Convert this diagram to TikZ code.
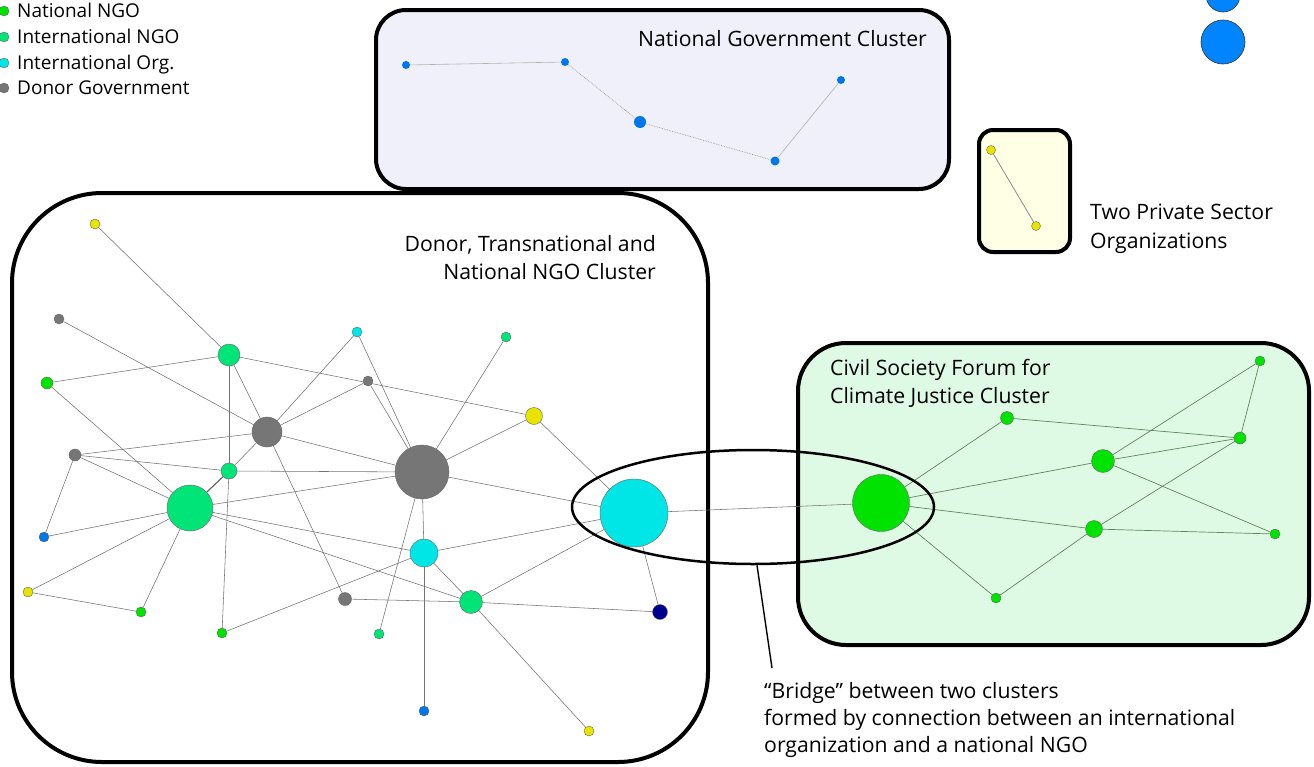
\documentclass[tikz,border=0pt]{standalone}
\usepackage{fontspec}
\setmainfont{Open Sans}
\usetikzlibrary{shapes.geometric}
\definecolor{cNat}{RGB}{0,226,0}
\definecolor{cIng}{RGB}{0,228,120}
\definecolor{cIO}{RGB}{0,230,230}
\definecolor{cDon}{RGB}{118,118,118}
\definecolor{cYel}{RGB}{232,228,0}
\definecolor{cBlu}{RGB}{0,118,235}
\definecolor{cNav}{RGB}{0,0,140}
\definecolor{cGovFill}{RGB}{240,240,250}
\definecolor{cPrivFill}{RGB}{255,255,230}
\definecolor{cCivFill}{RGB}{222,250,228}
\definecolor{cBigBlue}{RGB}{0,133,255}
\definecolor{cCivEdge}{RGB}{95,135,95}
\pgfdeclarelayer{bg}\pgfdeclarelayer{edges}\pgfsetlayers{bg,edges,main}
\begin{document}
\begin{tikzpicture}[x=1pt,y=-1pt,
  nd/.style={circle,draw=black!60,line width=0.4pt,inner sep=0pt},
  nat/.style={nd,fill=cNat}, ing/.style={nd,fill=cIng}, io/.style={nd,fill=cIO},
  don/.style={nd,fill=cDon}, yel/.style={nd,fill=cYel}, blu/.style={nd,fill=cBlu},
  nav/.style={nd,fill=cNav}, gov/.style={circle,fill=cBlu,inner sep=0pt},
  edge/.style={draw=black!55,line width=0.55pt},
  civedge/.style={draw=cCivEdge,line width=0.7pt},
  govedge/.style={draw=black!30,line width=0.6pt},
  govdot/.style={draw=black!40,line width=0.7pt,densely dotted},
  box/.style={draw=black,line width=4pt},
  lbl/.style={inner sep=0pt,font=\fontsize{21.2}{28}\selectfont},
  leg/.style={inner sep=0pt,font=\fontsize{19}{20}\selectfont}]
\useasboundingbox (0,0) rectangle (1314,766);

% cluster boxes
\begin{pgfonlayer}{bg}
\fill[white] (0,0) rectangle (1314,766);
\draw[box,fill=white,rounded corners=90pt] (12,193) rectangle (708,762);
\draw[box,fill=cGovFill,rounded corners=30pt] (376,10) rectangle (949,189);
\draw[box,fill=cPrivFill,rounded corners=14pt] (979,130) rectangle (1070,252);
\draw[box,fill=cCivFill,rounded corners=48pt] (798,343) rectangle (1309,645);
\end{pgfonlayer}

% legend
\node[nat,minimum size=10pt] (l1) at (4,11) {};
\node[ing,minimum size=10pt] (l2) at (4,37) {};
\node[io,minimum size=10pt] (l3) at (4,63) {};
\node[don,minimum size=10pt] (l4) at (4,88) {};
\node[leg,anchor=base west] (t1) at (17,17) {National NGO};
\node[leg,anchor=base west] (t2) at (17,43) {International NGO};
\node[leg,anchor=base west] (t3) at (17,69) {International Org.};
\node[leg,anchor=base west] (t4) at (17,94) {Donor Government};

% top-right blue circles
\node[circle,draw=black!80,line width=0.6pt,fill=cBigBlue,minimum size=34pt,inner sep=0pt] (bb1) at (1223,-5) {};
\node[circle,draw=black!80,line width=0.6pt,fill=cBigBlue,minimum size=44pt,inner sep=0pt] (bb2) at (1223,42) {};

% national government cluster
\node[gov,minimum size=8pt] (gv1) at (406,65) {};
\node[gov,minimum size=8pt] (gv2) at (565,62) {};
\node[gov,minimum size=12pt] (gv3) at (640,122) {};
\node[gov,minimum size=9pt] (gv4) at (775,161) {};
\node[gov,minimum size=8pt] (gv5) at (841,80) {};
\node[lbl,anchor=base east] (tgov) at (927,46) {National Government Cluster};

% private sector
\node[yel,minimum size=9pt] (p1) at (991,150) {};
\node[yel,minimum size=9pt] (p2) at (1036,226) {};
\node[lbl,anchor=base west] (tp1) at (1090,219) {Two Private Sector};
\node[lbl,anchor=base west] (tp2) at (1090,248) {Organizations};

% donor cluster nodes
\node[yel,minimum size=10pt] (y1) at (95,224) {};
\node[don,minimum size=10pt] (g1) at (59,319) {};
\node[nat,minimum size=12pt] (gA) at (47,383) {};
\node[ing,minimum size=22pt] (ing1) at (229,355) {};
\node[don,minimum size=30pt] (dg1) at (267,432) {};
\node[io,minimum size=10pt] (cy1) at (357,332) {};
\node[don,minimum size=10pt] (gs2) at (368,381) {};
\node[ing,minimum size=10pt] (ing2) at (506,337) {};
\node[yel,minimum size=17pt] (y2) at (534,416) {};
\node[don,minimum size=54pt] (dg2) at (422,472) {};
\node[don,minimum size=12pt] (gs3) at (75,455) {};
\node[ing,minimum size=16pt] (ing3) at (229,471) {};
\node[ing,minimum size=46pt] (ingB) at (190,508) {};
\node[io,minimum size=68pt] (cyB) at (634,513) {};
\node[io,minimum size=28pt] (cy2) at (424,553) {};
\node[blu,minimum size=10pt] (b1) at (44,537) {};
\node[yel,minimum size=10pt] (y3) at (28,592) {};
\node[nat,minimum size=10pt] (gN1) at (141,612) {};
\node[nat,minimum size=10pt] (gN2) at (222,633) {};
\node[don,minimum size=13pt] (gs4) at (345,599) {};
\node[ing,minimum size=10pt] (ing4) at (379,634) {};
\node[ing,minimum size=23pt] (ing5) at (471,602) {};
\node[nav,minimum size=15pt] (nv) at (660,612) {};
\node[blu,minimum size=10pt] (b2) at (424,711) {};
\node[yel,minimum size=10pt] (y4) at (589,731) {};
\node[lbl,anchor=base east] (td1) at (656,251) {Donor, Transnational and};
\node[lbl,anchor=base east] (td2) at (656,279) {National NGO Cluster};

% civil society cluster nodes
\node[nat,minimum size=57pt] (cB) at (881,503) {};
\node[nat,minimum size=13pt] (c1) at (1007,418) {};
\node[nat,minimum size=10pt] (c2) at (1260,361) {};
\node[nat,minimum size=12pt] (c3) at (1240,438) {};
\node[nat,minimum size=23pt] (c4) at (1103,461) {};
\node[nat,minimum size=17pt] (c5) at (1094,529) {};
\node[nat,minimum size=10pt] (c6) at (1275,534) {};
\node[nat,minimum size=10pt] (c7) at (996,598) {};
\node[lbl,anchor=base west] (tc1) at (830,375) {Civil Society Forum for};
\node[lbl,anchor=base west] (tc2) at (830,403) {Climate Justice Cluster};

\begin{pgfonlayer}{edges}
\draw[govedge] (gv1) -- (gv2);
\draw[govdot] (gv2) -- (gv3);
\draw[govdot] (gv3) -- (gv4);
\draw[govedge] (gv4) -- (gv5);
\draw[draw=black!45,line width=0.8pt] (p1) -- (p2);
\foreach \a/\b in {y1/ing1,g1/dg1,gA/ing1,gA/ingB,ing1/dg1,ing1/ing3,ing1/y2,
  dg1/cy1,dg1/gs2,dg1/dg2,gs3/dg1,dg1/ing3,dg1/gs4,cy1/dg2,gs2/dg2,ing2/dg2,
  y2/dg2,y2/cyB,dg2/cyB,dg2/cy2,dg2/ing4,dg2/ingB,ing3/dg2,gs3/ing3,gs3/ingB,
  gs3/b1,ingB/b1,ingB/y3,ingB/gN1,ingB/cy2,ingB/ing5,ing3/gN2,y3/gN1,gN2/cy2,
  gs4/ing5,cy2/ing5,cy2/cyB,cy2/b2,ing5/cyB,ing5/y4,ing5/nv,cyB/nv}
  \draw[edge] (\a) -- (\b);
\draw[draw=black!60,line width=1.2pt] (ingB) -- (ing3);
\draw[edge] (cyB) -- (cB);
\foreach \a/\b in {cB/c1,cB/c4,cB/c5,cB/c7,c1/c3,c4/c2,c4/c3,c4/c6,c5/c3,c5/c6,c5/c7,c2/c3}
  \draw[civedge] (\a) -- (\b);
\end{pgfonlayer}

% bridge ellipse and pointer
\node[ellipse,draw=black,line width=2.5pt,minimum width=362pt,minimum height=114pt,inner sep=0pt] (br) at (753,507) {};
\coordinate (ptr) at (772,668);
\draw[line width=1.4pt] (br.south) ++(4,0) coordinate (brs) -- (ptr);
\node[lbl,anchor=base west] (tb1) at (764,698) {“Bridge” between two clusters};
\node[lbl,anchor=base west] (tb2) at (764,725) {formed by connection between an international};
\node[lbl,anchor=base west] (tb3) at (764,752) {organization and a national NGO};
\end{tikzpicture}
\end{document}
